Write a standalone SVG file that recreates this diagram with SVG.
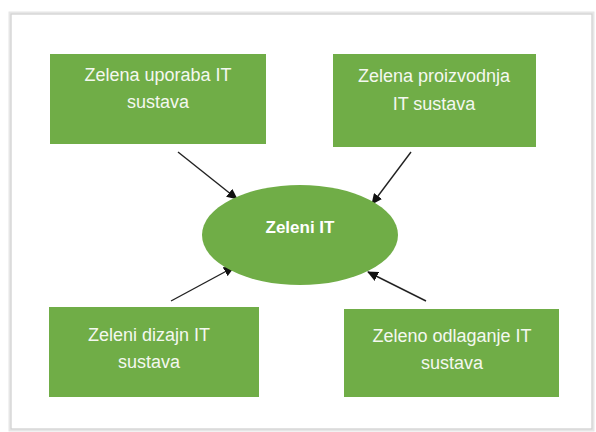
<svg xmlns="http://www.w3.org/2000/svg" width="596" height="432" viewBox="0 0 596 432">
  <defs>
    <marker id="arrow" viewBox="0 0 11 10" refX="10" refY="5" markerWidth="11" markerHeight="10" markerUnits="userSpaceOnUse" orient="auto">
      <path d="M0,0 L11,5 L0,10 z" fill="#111"/>
    </marker>
    <style>
      .box { fill: #70AD47; }
      .lbl { font-family: "Liberation Sans", Arial, sans-serif; font-size: 18px; fill: #f4f8f0; text-anchor: middle; }
      .title { font-family: "Liberation Sans", Arial, sans-serif; font-size: 17px; font-weight: bold; fill: #ffffff; text-anchor: middle; }
      .conn { stroke: #222; stroke-width: 1.4; fill: none; marker-end: url(#arrow); }
    </style>
  </defs>
  <rect x="0" y="0" width="596" height="432" fill="#ffffff"/>
  <g id="frame">
    <rect x="10" y="13" width="583" height="417" fill="none" stroke="#e6e6e6" stroke-width="3"/>
    <rect x="11" y="14" width="581" height="415" fill="none" stroke="#cfcfcf" stroke-width="1"/>
  </g>
  <g id="connectors">
    <line class="conn" x1="178" y1="152" x2="237" y2="199"/>
    <line class="conn" x1="411" y1="152" x2="372" y2="204"/>
    <line class="conn" x1="171" y1="301" x2="234" y2="267"/>
    <line class="conn" x1="426" y1="301" x2="368" y2="272"/>
  </g>
  <g id="center">
    <ellipse cx="300" cy="235" rx="98" ry="50" fill="#70AD47"/>
    <text class="title" x="300" y="233">Zeleni IT</text>
  </g>
  <g id="node1">
    <rect class="box" x="50" y="54" width="216" height="90"/>
    <text class="lbl" x="158" y="81">Zelena uporaba IT</text>
    <text class="lbl" x="158" y="108">sustava</text>
  </g>
  <g id="node2">
    <rect class="box" x="333" y="54" width="203" height="93"/>
    <text class="lbl" x="434" y="82">Zelena proizvodnja</text>
    <text class="lbl" x="434" y="110">IT sustava</text>
  </g>
  <g id="node3">
    <rect class="box" x="49" y="307" width="210" height="90"/>
    <text class="lbl" x="149" y="341">Zeleni dizajn IT</text>
    <text class="lbl" x="149" y="368">sustava</text>
  </g>
  <g id="node4">
    <rect class="box" x="344" y="309" width="215" height="88"/>
    <text class="lbl" x="452" y="342">Zeleno odlaganje IT</text>
    <text class="lbl" x="452" y="369">sustava</text>
  </g>
</svg>
